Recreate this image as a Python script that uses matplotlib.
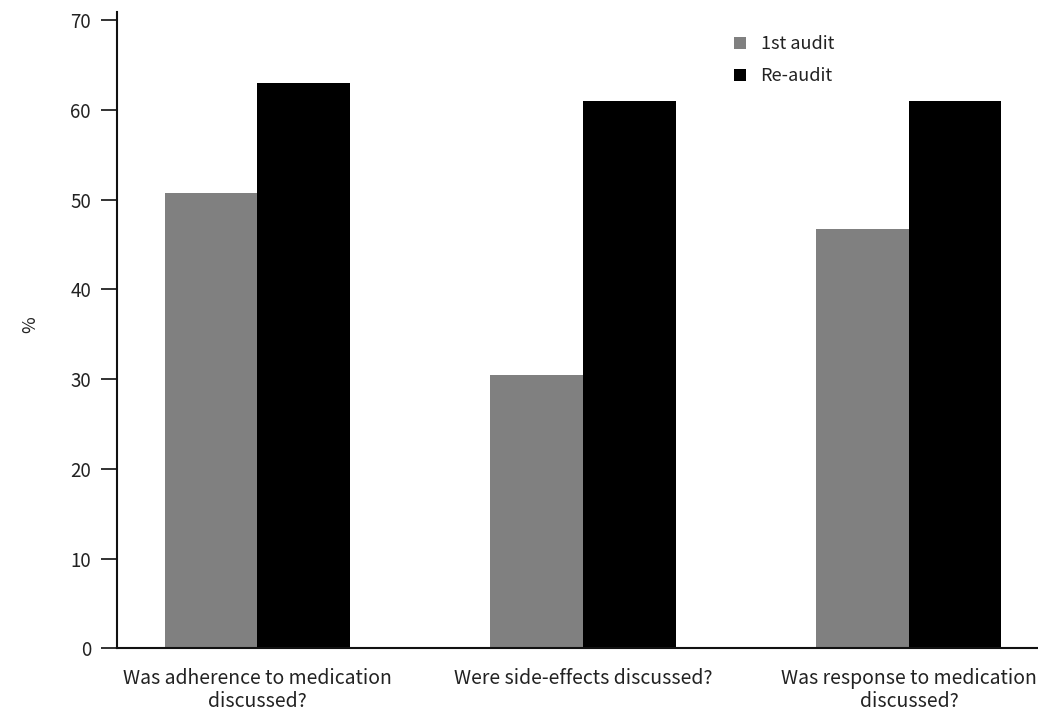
import matplotlib
matplotlib.use("Agg")
import matplotlib.pyplot as plt
import numpy as np

plt.rcParams['font.family'] = ['Noto Sans CJK KR', 'DejaVu Sans']

categories = ["Was adherence to medication\ndiscussed?",
              "Were side-effects discussed?",
              "Was response to medication\ndiscussed?"]
first_audit = [50.8, 30.5, 46.7]
re_audit = [63.0, 61.0, 61.0]
series_names = ["1st audit", "Re-audit"]
yticks = [0, 10, 20, 30, 40, 50, 60, 70]

W, H = 1038, 713
fig = plt.figure(figsize=(W/100, H/100), dpi=100)
ax = fig.add_axes([117/W, 1-648.3/H, 1-117/W, (648.3-12)/H])

x = np.arange(len(categories))
w = 0.284
ax.bar(x - w/2, first_audit, w, color='#808080', label=series_names[0])
ax.bar(x + w/2, re_audit, w, color='#000000', label=series_names[1])

ax.set_xlim(-0.43, 2.396)
ax.set_ylim(0, 70 + 8.3/8.966)
ax.set_yticks(yticks)
ax.set_xticks(x)
ax.set_xticklabels(categories, fontsize=14, color='#222222', linespacing=1.12)
ax.tick_params(axis='x', length=0, pad=14.5)
ax.tick_params(axis='y', length=11.8, width=1.3, direction='out', labelsize=13.5,
               colors='#222222', pad=7)
for s in ['top', 'right']:
    ax.spines[s].set_visible(False)
for s in ['left', 'bottom']:
    ax.spines[s].set_linewidth(1.5)
    ax.spines[s].set_color('#111111')

fig.text(30/W, 1-325/H, '%', rotation=90, ha='center', va='center',
         fontsize=13, color='#222222')

leg = ax.legend(loc='upper left', bbox_to_anchor=(734/W, 1-35/H),
                bbox_transform=fig.transFigure, frameon=False, fontsize=13,
                handlelength=0.64, handleheight=0.64, handletextpad=0.83,
                labelspacing=0.78, borderaxespad=0, borderpad=0)
for t in leg.get_texts():
    t.set_color('#222222')

fig.savefig('out.png', dpi=100)
